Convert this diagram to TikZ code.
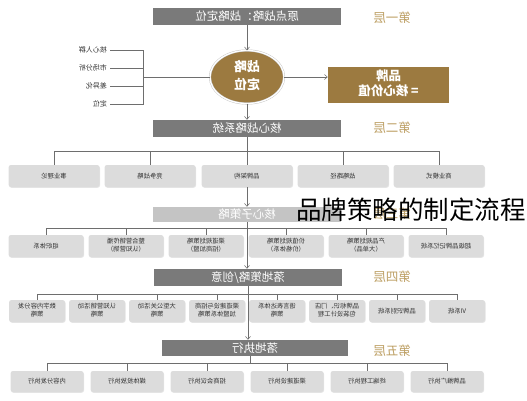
\documentclass[tikz,border=0pt]{standalone}
\usepackage{fontspec}
\newfontfamily\cjk{Noto Sans CJK SC}
\usetikzlibrary{arrows.meta,shapes.geometric,shadows}

\definecolor{boxgray}{HTML}{7A7A7A}
\definecolor{palegray}{HTML}{C4C4C4}
\definecolor{cellgray}{HTML}{DCDCDC}
\definecolor{bronze}{HTML}{9C7A40}
\definecolor{tiertan}{HTML}{BC9E62}
\definecolor{wire}{HTML}{6E6E6E}

\newcommand{\mir}[1]{\reflectbox{#1}}
\newcommand{\mirtwo}[2]{\reflectbox{\begin{tabular}{@{}c@{}}#1\\#2\end{tabular}}}

\tikzset{%
        every node/.style = {font = \cjk},
        layer/.style = {rectangle, fill = boxgray, text = white, minimum width = 188pt, minimum height = 17pt, inner sep = 0pt, font = \cjk\fontsize{11.5}{13}\selectfont},
        sublayer/.style = {layer, fill = palegray, minimum height = 15pt},
        tier/.style = {text = tiertan, inner sep = 0pt, font = \cjk\fontsize{12.5}{14}\selectfont},
        cell/.style = {rectangle, rounded corners = 2.5pt, fill = cellgray, text = black!80, inner sep = 0pt, minimum height = 22pt, font = \cjk\fontsize{6.3}{8}\selectfont,
            drop shadow = {shadow xshift = 0.6pt, shadow yshift = -0.8pt, opacity = 0.2}},
        factor/.style = {inner sep = 0pt, text = black!80, font = \cjk\fontsize{7}{8}\selectfont},
        core/.style = {ellipse, fill = bronze, draw = black!25, double = white, double distance = 1.3pt, line width = 0.4pt, minimum width = 74pt, minimum height = 53pt, inner sep = 0pt, text = white, font = \cjk\bfseries\fontsize{13}{18}\selectfont},
        brand/.style = {rectangle, fill = bronze, minimum width = 121pt, minimum height = 36pt, inner sep = 0pt, text = white, font = \cjk\bfseries\fontsize{12.5}{15}\selectfont},
        arr/.style = {-{Straight Barb[length = 3pt, width = 5pt]}}
    }

\begin{document}
\begin{tikzpicture}[x = 1pt, y = -1pt, line width = 0.5pt, draw = wire]
\useasboundingbox (0,0) rectangle (527,400);

% first tier
\node[layer]	(origin)	at (247,16.5)	{\mir{原点战略：战略定位}};
\node[tier]	(tier1)	at (392,18)	{\mir{第一层}};
\node[core]	(core)	at (247,77)	{\mirtwo{战略}{定位}};
\node[brand]	(brand)	at (388.5,85)	{\mirtwo{品牌}{= 核心价值}};
\draw[arr] (origin) -- (core);
\draw[arr] (core.east) -- (core.east -| brand.west);

\coordinate (join) at (143,77);
\draw (core.west) -- (join);
\foreach \y/\txt [count = \i] in {50/核心人群, 68/市场分析, 86/差异化, 104/定位} {
    \node[factor, anchor = east] (f\i) at (107,\y) {\mir{\txt}};
    \draw ([xshift = 3pt]f\i.east) -| (join);
}

% second tier
\node[layer]	(system)	at (247,128.5)	{\mir{核心战略系统}};
\node[tier]	(tier2)	at (392,128)	{\mir{第二层}};
\draw[arr] (core) -- (system);
\coordinate (bus2) at (247,151);
\draw (system) -- (bus2);
\foreach \x/\txt [count = \i] in {54/事业理论, 150/竞争战略, 247/品牌架构, 343/战略路径, 439/商业模式} {
    \node[cell, minimum width = 91pt] (s\i) at (\x,176) {\mir{\txt}};
    \draw (bus2) -| (s\i.north);
}

% third tier
\node[sublayer]	(sub)	at (247,214.5)	{\mir{核心子策略}};
\node[tier]	(tier3)	at (392,214)	{\mir{第三层}};
\draw[arr] (s3) -- (sub);
\coordinate (bus3) at (247,228);
\draw (sub) -- (bus3);
\foreach \x/\txt [count = \i] in {46/{\mir{组织体系}}, 126/{\mirtwo{整合营销传播}{（认知营销）}}, 206/{\mirtwo{渠道规划策略}{（招商加盟）}}, 286/{\mirtwo{价值规划策略}{（价格体系）}}, 366/{\mirtwo{产品规划策略}{（大单品）}}, 446/{\mir{超级品牌记忆系统}}} {
    \node[cell, minimum width = 75pt] (c\i) at (\x,246) {\txt};
    \draw (bus3) -| (c\i.north);
}

% fourth tier
\node[layer]	(land)	at (248,277.5)	{\mir{落地策略/创意}};
\node[tier]	(tier4)	at (392,277)	{\mir{第四层}};
\draw[arr] (bus3) -- (bus3 |- land.north);
\coordinate (bus4) at (248,294);
\draw (land) -- (bus4);
\foreach \x/\txt [count = \i] in {37/{\mirtwo{数字内容分发}{策略}}, 97/{\mirtwo{认知营销活动}{策略}}, 157/{\mirtwo{大型公关活动}{策略}}, 217/{\mirtwo{渠道建设与招商}{加盟体系策略}}, 277/{\mirtwo{语言表达体系}{策略}}, 337/{\mirtwo{品牌标识、门店}{包装设计工程}}, 397/{\mir{品牌识别系统}}, 457/{\mir{VI系统}}} {
    \node[cell, minimum width = 56pt] (p\i) at (\x,311) {\txt};
    \draw (bus4) -| (p\i.north);
}

% fifth tier
\node[layer, minimum width = 186pt, minimum height = 16pt]	(exec)	at (255,348)	{\mir{落地执行}};
\node[tier]	(tier5)	at (392,351)	{\mir{第五层}};
\draw[arr] (bus4) -- (bus4 |- exec.north);
\coordinate (bus5) at (250,363);
\draw (bus5 |- exec.south) -- (bus5);
\foreach \x/\txt [count = \i] in {47/内容分发执行, 127/媒体投放执行, 207/招商会议执行, 287/渠道建设执行, 367/终端工程执行, 447/品牌推广执行} {
    \node[cell, minimum width = 73pt, minimum height = 21pt] (e\i) at (\x,381.5) {\mir{\txt}};
    \draw (bus5) -| (e\i.north);
}

% caption over the chart
\node[anchor = west, inner sep = 0pt, font = \cjk\fontsize{25.5}{28}\selectfont] (title) at (296,210) {品牌策略的制定流程};
\end{tikzpicture}
\end{document}
